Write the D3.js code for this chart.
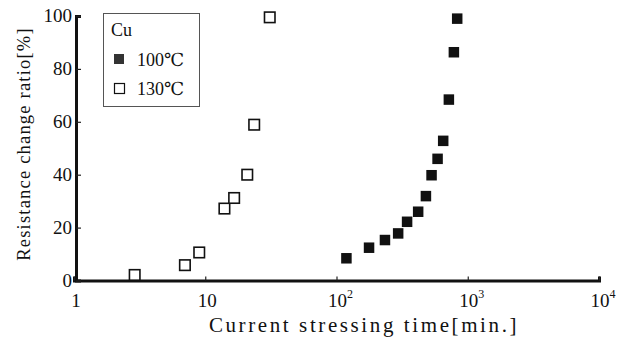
<!DOCTYPE html>
<html>
<head>
<meta charset="utf-8">
<script src="https://cdn.jsdelivr.net/npm/d3@7"></script>
<style>
  body { margin: 0; background: #fff; }
  svg text { font-family: "Liberation Serif", "DejaVu Serif", serif; fill: #111; }
</style>
</head>
<body>
<div id="chart"></div>
<script>
// 100C series (filled squares)
var time100 = [119, 177, 234, 295, 345, 419, 480, 530, 589, 650, 718, 784, 831];
var ratio100 = [8.4, 12.4, 15.3, 17.8, 22.2, 26, 31.9, 39.8, 46, 52.8, 68.4, 86.3, 99];
// 130C series (open squares)
var time130 = [2.9, 7.0, 9.0, 14, 16.6, 20.9, 23.6, 31];
var ratio130 = [2.1, 5.8, 10.6, 27.2, 31.2, 40, 58.9, 99.5];

var xTicks = [1, 10, 100, 1000, 10000];
var xTickLabels = ["1", "10", "10|2", "10|3", "10|4"];
var yTicks = [0, 20, 40, 60, 80, 100];
var legendLabels = ["100\u2103", "130\u2103"];

var width = 619, height = 338;
var margin = {left: 74, right: 20, top: 16, bottom: 57.5};

var svg = d3.select('#chart').append('svg')
    .attr('width', width)
    .attr('height', height);

var x = d3.scaleLog()
    .domain([1, 10000])
    .range([margin.left, width - margin.right]);

var y = d3.scaleLinear()
    .domain([0, 100])
    .range([height - margin.bottom, margin.top]);

// axes
var xAxis = svg.append('g')
    .attr('transform', 'translate(0,' + (height - margin.bottom) + ')')
    .call(d3.axisBottom(x).tickValues(xTicks).tickSize(-4).tickFormat(''));
xAxis.select('.domain').attr('stroke', '#111').attr('stroke-width', 3);
xAxis.selectAll('.tick line').attr('stroke', '#222').attr('stroke-width', 1.2);

var yAxis = svg.append('g')
    .attr('transform', 'translate(' + (margin.left + 2) + ',0)')
    .call(d3.axisLeft(y).tickValues(yTicks).tickSize(-5).tickFormat(''));
yAxis.select('.domain').attr('stroke', '#111').attr('stroke-width', 3);
yAxis.selectAll('.tick line').attr('stroke', '#222').attr('stroke-width', 1.2);

// y tick labels
svg.selectAll('.ylab')
    .data(yTicks)
    .enter()
    .append('text')
    .attr('class', 'ylab')
    .attr('x', margin.left - 2)
    .attr('y', function(d) { return y(d) + 6; })
    .attr('text-anchor', 'end')
    .style('font-size', '19px')
    .text(function(d) { return d; });

// x tick labels, with superscript exponent
xTicks.forEach(function(t, i) {
    var parts = xTickLabels[i].split('|');
    var txt = svg.append('text')
        .attr('x', x(t) + (parts[1] ? 4 : 2))
        .attr('y', height - margin.bottom + 26)
        .attr('text-anchor', 'middle')
        .style('font-size', '19px')
        .text(parts[0]);
    if (parts[1]) {
        txt.append('tspan')
            .attr('dy', -9)
            .style('font-size', '12px')
            .text(parts[1]);
    }
});

// axis titles
svg.append('text')
    .attr('transform', 'translate(30,' + 144 + ') rotate(-90)')
    .attr('text-anchor', 'middle')
    .style('font-size', '18.5px')
    .style('letter-spacing', '1.2px')
    .text('Resistance change ratio[%]');

svg.append('text')
    .attr('x', 364)
    .attr('y', 332)
    .attr('text-anchor', 'middle')
    .style('font-size', '21px')
    .style('letter-spacing', '2.6px')
    .text('Current stressing time[min.]');

// data points
var sq = 10.5;
var data130 = time130.map(function(t, i) { return {t: t, r: ratio130[i]}; });
var data100 = time100.map(function(t, i) { return {t: t, r: ratio100[i]}; });

svg.selectAll('.p130')
    .data(data130)
    .enter()
    .append('rect')
    .attr('class', 'p130')
    .attr('x', function(d) { return x(d.t) - sq / 2; })
    .attr('y', function(d) { return y(d.r) - sq / 2; })
    .attr('width', sq)
    .attr('height', sq)
    .attr('fill', '#fff')
    .attr('stroke', '#111')
    .attr('stroke-width', 1.6);

svg.selectAll('.p100')
    .data(data100)
    .enter()
    .append('rect')
    .attr('class', 'p100')
    .attr('x', function(d) { return x(d.t) - sq / 2; })
    .attr('y', function(d) { return y(d.r) - sq / 2; })
    .attr('width', sq)
    .attr('height', sq)
    .attr('fill', '#111');

// legend
var legend = svg.append('g');
legend.append('rect')
    .attr('x', 103.5).attr('y', 13.5)
    .attr('width', 96).attr('height', 93)
    .attr('fill', '#fff')
    .attr('stroke', '#555')
    .attr('stroke-width', 1);
legend.append('text')
    .attr('x', 111).attr('y', 36)
    .style('font-size', '18px')
    .text('Cu');
legend.append('rect')
    .attr('x', 114).attr('y', 54)
    .attr('width', 10).attr('height', 10)
    .attr('fill', '#333');
legend.append('rect')
    .attr('x', 114.5).attr('y', 83.5)
    .attr('width', 10).attr('height', 10)
    .attr('fill', '#fff').attr('stroke', '#111').attr('stroke-width', 1.2);
legend.selectAll('.leglab')
    .data(legendLabels)
    .enter()
    .append('text')
    .attr('class', 'leglab')
    .attr('x', 137)
    .attr('y', function(d, i) { return 66 + i * 29; })
    .style('font-size', '18px')
    .text(function(d) { return d; });
</script>
</body>
</html>
